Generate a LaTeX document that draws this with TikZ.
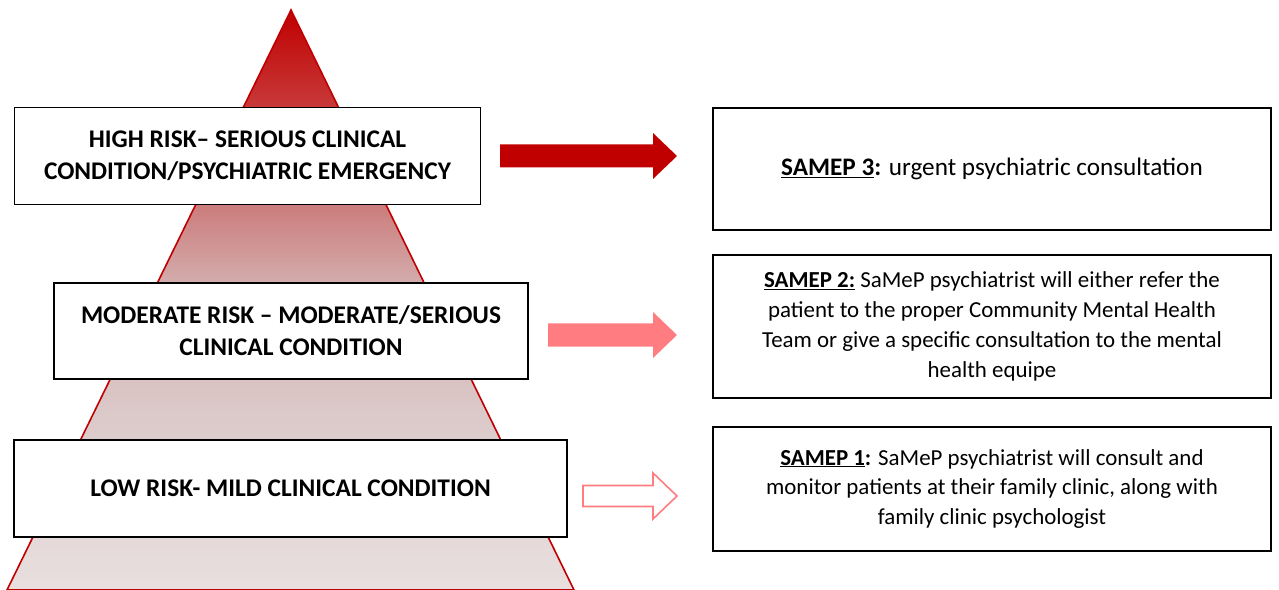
\documentclass[tikz,border=0pt]{standalone}
\usepackage{fontspec}
\setmainfont{Carlito}
\usetikzlibrary{calc}
\definecolor{riskred}{HTML}{C00000}
\definecolor{riskpink}{HTML}{FF7C80}
\definecolor{pyrtop}{HTML}{C83838}
\definecolor{pyrupper}{HTML}{CC7C7C}
\definecolor{pyrmid}{HTML}{D4B0B0}
\definecolor{pyrlow}{HTML}{DCCACA}
\definecolor{pyrbase}{HTML}{E9DFDF}
\pgfdeclareverticalshading{pyrshade}{100bp}{color(0bp)=(pyrbase); color(25bp)=(pyrbase);
  color(39.7bp)=(pyrlow); color(50.9bp)=(pyrmid); color(58.2bp)=(pyrupper);
  color(66.8bp)=(pyrtop); color(75bp)=(riskred); color(100bp)=(riskred)}
\tikzset{
  riskbox/.style={draw=black, line width=1.6bp, fill=white, align=center, inner sep=0pt, font=\fontsize{25.5}{32}\selectfont\bfseries},
  samepbox/.style={draw=black, line width=1.6bp, fill=white, align=center, inner sep=0pt, minimum width=558bp, font=\fontsize{23}{30}\selectfont},
  fullarr/.style={fill=#1, draw=none},
  openarr/.style={fill=white, draw=#1, line width=1.6bp},
}
\newcommand{\blockarrow}[4]{%
  \path[#1] ($(#2)+(0,-#4)$) -- ($(#3)+(-24,-#4)$) -- ($(#3)+(-24,-23)$) -- (#3)
    -- ($(#3)+(-24,23)$) -- ($(#3)+(-24,#4)$) -- ($(#2)+(0,#4)$) -- cycle;}

\begin{document}
\begin{tikzpicture}[x=1bp, y=-1bp]
  \useasboundingbox (0,0) rectangle (1279,590);
  \path[draw=riskred, line width=1.6bp, shading=pyrshade]
    (291,10) -- (574,590) -- (7,590) -- cycle;

  \node[riskbox, minimum width=466bp, minimum height=97bp] (high) at (247.5,156)
    {HIGH RISK– SERIOUS CLINICAL\\CONDITION/PSYCHIATRIC EMERGENCY};
  \node[riskbox, minimum width=474bp, minimum height=96bp] (moderate) at (291,331)
    {MODERATE RISK – MODERATE/SERIOUS\\CLINICAL CONDITION};
  \node[riskbox, minimum width=553bp, minimum height=97bp] (low) at (290.5,488.5)
    {LOW RISK- MILD CLINICAL CONDITION};

  \node[samepbox, minimum height=122bp, font=\fontsize{25.3}{32}\selectfont] (samep3) at (992,169)
    {\underline{\textbf{SAMEP 3}}\textbf{:} urgent psychiatric consultation};
  \node[samepbox, minimum height=143bp] (samep2) at (992,326.5)
    {\underline{\textbf{SAMEP 2:}} SaMeP psychiatrist will either refer the\\patient to the proper Community Mental Health\\Team or give a specific consultation to the mental\\health equipe};
  \node[samepbox, minimum height=124bp] (samep1) at (992,489)
    {\underline{\textbf{SAMEP 1}}\textbf{:} SaMeP psychiatrist will consult and\\monitor patients at their family clinic, along with\\family clinic psychologist};

  \coordinate (high-out) at (500,156);
  \coordinate (samep3-in) at (677,156);
  \coordinate (moderate-out) at (548,335);
  \coordinate (samep2-in) at (677,335);
  \coordinate (low-out) at (583,496);
  \coordinate (samep1-in) at (677,496);
  \blockarrow{fullarr=riskred}{high-out}{samep3-in}{11.5}
  \blockarrow{fullarr=riskpink}{moderate-out}{samep2-in}{11.5}
  \blockarrow{openarr=riskpink}{low-out}{samep1-in}{10.5}
\end{tikzpicture}
\end{document}
